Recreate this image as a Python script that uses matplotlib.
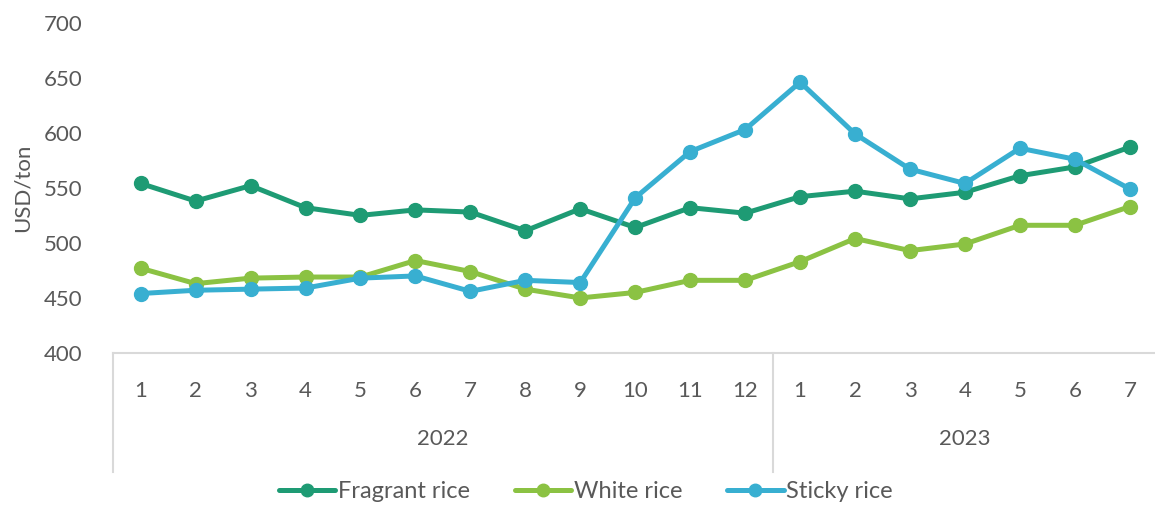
import numpy as np
import matplotlib.pyplot as plt
import matplotlib.transforms as mtransforms

# data
years = ['2022', '2023']
months_per_year = [12, 7]
months = [str(m) for m in range(1, 13)] + [str(m) for m in range(1, 8)]

fragrant = [554, 538, 552, 532, 525, 530, 528, 511, 531, 514, 532, 527,
            542, 547, 540, 546, 561, 569, 587]
white = [477, 463, 468, 469, 469, 484, 474, 458, 450, 455, 466, 466,
         483, 504, 493, 499, 516, 516, 533]
sticky = [454, 457, 458, 459, 468, 470, 456, 466, 464, 541, 583, 603,
          646, 599, 567, 554, 586, 576, 549]

series = [('Fragrant rice', fragrant, '#1e9b74'),
          ('White rice', white, '#8bc243'),
          ('Sticky rice', sticky, '#38afd1')]

text_color = '#595959'
axis_color = '#d9d9d9'
plt.rcParams['font.family'] = ['Lato', 'DejaVu Sans']

fig = plt.figure(figsize=(11.55, 5.05), dpi=100)
ax = fig.add_axes([0.098, 0.301, 0.904, 0.654])

x = np.arange(len(months))
for name, vals, col in series:
    ax.plot(x, vals, color=col, lw=3.6, marker='o', ms=10, label=name,
            solid_capstyle='round')

ax.set_xlim(-0.5, len(months) - 0.5)
ax.set_ylim(400, 700)
ax.set_yticks(np.arange(400, 701, 50))
ax.set_xticks(x)
ax.set_xticklabels(months)
ax.tick_params(axis='both', length=0, labelsize=16, colors=text_color)
ax.tick_params(axis='x', pad=20)
ax.tick_params(axis='y', pad=22)
ax.set_ylabel('USD/ton', fontsize=16, color=text_color, labelpad=8)

for s in ['top', 'right', 'left']:
    ax.spines[s].set_visible(False)
ax.spines['bottom'].set_color(axis_color)
ax.spines['bottom'].set_linewidth(1.5)

# year group labels and separators under the month ticks
trans = mtransforms.blended_transform_factory(ax.transData, ax.transAxes)
edges = np.concatenate([[0], np.cumsum(months_per_year)]) - 0.5
for i, yr in enumerate(years):
    mid = (edges[i] + edges[i + 1]) / 2
    ax.text(mid, -0.26, yr, transform=trans, ha='center', va='center',
            fontsize=16, color=text_color)
for e in edges[:-1]:
    ax.plot([e, e], [0, -0.36], transform=trans, color=axis_color, lw=1.5,
            clip_on=False)

leg = fig.legend(loc='center', bbox_to_anchor=(0.507, 0.026), ncol=3,
                 frameon=False, fontsize=17, handlelength=2.4,
                 columnspacing=1.9, handletextpad=0.1, markerscale=0.9)
for t in leg.get_texts():
    t.set_color(text_color)

fig.savefig('out.png', dpi=100)
